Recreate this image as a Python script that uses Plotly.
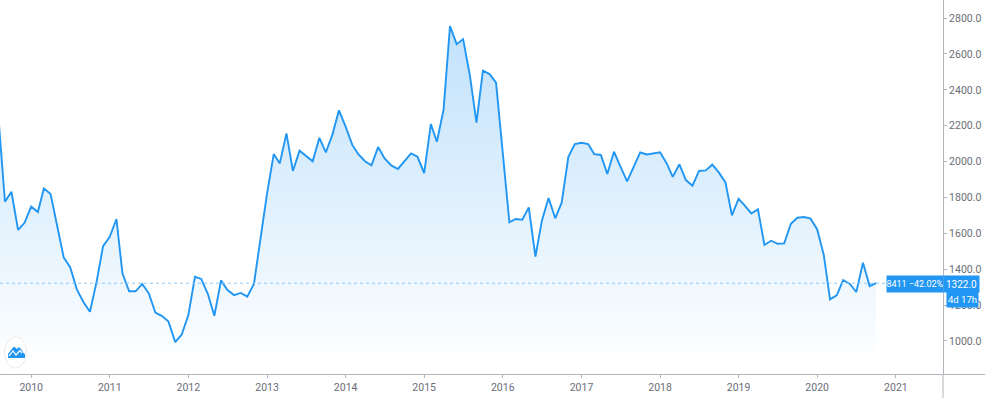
import plotly.graph_objects as go
import pandas as pd

start_month = "2009-08-01"
values = [2260, 1776, 1832, 1619, 1659, 1749, 1719, 1851, 1819, 1637, 1466, 1411, 1288, 1216, 1163, 1331,
          1529, 1581, 1680, 1377, 1277, 1277, 1318, 1266, 1158, 1139, 1108, 994, 1035, 1143, 1358, 1346,
          1262, 1141, 1338, 1284, 1256, 1268, 1247, 1318, 1563, 1823, 2042, 1990, 2157, 1948, 2061, 2031,
          2002, 2133, 2051, 2152, 2286, 2195, 2093, 2041, 2002, 1979, 2081, 2018, 1979, 1959, 2002, 2046,
          2027, 1936, 2210, 2111, 2288, 2755, 2655, 2683, 2483, 2217, 2507, 2488, 2440, 2065, 1662, 1680,
          1676, 1745, 1470, 1671, 1797, 1684, 1771, 2027, 2098, 2105, 2098, 2042, 2037, 1931, 2055, 1972,
          1890, 1972, 2051, 2040, 2046, 2052, 1990, 1915, 1985, 1897, 1866, 1948, 1951, 1983, 1940, 1884,
          1700, 1793, 1752, 1711, 1734, 1535, 1559, 1542, 1544, 1654, 1687, 1691, 1682, 1623, 1479, 1232,
          1255, 1340, 1318, 1273, 1436, 1306, 1322]
dates = pd.date_range(start_month, periods=len(values), freq="MS")
year_ticks = [f"{y}-01-01" for y in range(2010, 2022)]
year_labels = [str(y) for y in range(2010, 2022)]
price_ticks = [1000, 1200, 1400, 1600, 1800, 2000, 2200, 2400, 2600, 2800]
last_price = values[-1]
change_label = "8411 −42.02%"
price_label = "1322.0"
countdown_label = "4d 17h"

W, H, PLOT_H = 985, 405, 374
AXIS_X = 943
BLUE = "#2196f3"
GREY = "#b2b5be"
FONT = "Roboto, sans-serif"
TEXT = "#6a6d78"


def px(x):
    return x / W


def py(y):
    return 1 - y / PLOT_H


def poly(points, close=True):
    d = "M" + " L".join(f"{px(x):.5f},{py(y):.5f}" for x, y in points)
    return d + (" Z" if close else "")


def tag(text, x0, x1, y0, y1, size):
    return dict(xref="paper", yref="paper", x=px((x0 + x1) / 2), y=py((y0 + y1) / 2),
                xanchor="center", yanchor="middle",
                width=x1 - x0, height=y1 - y0, borderpad=0, bgcolor=BLUE, align="center",
                text=text, showarrow=False,
                font=dict(family=FONT, size=size, color="#ffffff"))


fig = go.Figure()
fig.add_trace(go.Scatter(
    x=dates, y=values, mode="lines",
    line=dict(color=BLUE, width=1.9),
    fill="tozeroy",
    fillgradient=dict(type="vertical", start=2760, stop=880,
                      colorscale=[[0, "rgba(33,150,243,0.28)"], [0.92, "rgba(33,150,243,0.03)"],
                                  [1, "rgba(33,150,243,0.0)"]]),
    hoverinfo="skip", showlegend=False,
))

shapes = [
    dict(type="line", xref="paper", yref="y", x0=0, x1=px(AXIS_X), y0=last_price, y1=last_price,
         line=dict(color="#90caf9", width=1, dash="dot"), layer="above"),
    dict(type="line", xref="paper", yref="paper", x0=px(AXIS_X), x1=px(AXIS_X), y0=py(374), y1=py(398),
         line=dict(color=GREY, width=1)),
    dict(type="circle", xref="paper", yref="paper", x0=px(4.5), x1=px(26.5), y0=py(337), y1=py(368),
         fillcolor="#ffffff", line=dict(color="#ebebee", width=1), layer="above"),
    dict(type="path", xref="paper", yref="paper",
         path=poly([(8, 358), (8, 354), (11, 350), (14, 346.5), (17, 349), (19, 347), (22, 350), (23, 352.5), (25, 354), (25, 358)]),
         fillcolor=BLUE, line=dict(width=0), layer="above"),
    dict(type="path", xref="paper", yref="paper",
         path=poly([(9, 356), (13, 351), (16, 355), (20, 350.5), (22, 353)], close=False),
         line=dict(color="#ffffff", width=1.2), layer="above"),
]

annotations = [
    tag(change_label, 887, 943, 275.5, 291.5, 9),
    tag(price_label, 944, 979, 275.5, 291.5, 10),
    tag(countdown_label, 947, 978, 292.5, 307, 9.5),
]

fig.update_layout(
    width=W, height=H,
    margin=dict(l=0, r=0, t=0, b=H - PLOT_H, pad=0),
    paper_bgcolor="#ffffff", plot_bgcolor="#ffffff",
    showlegend=False,
    shapes=shapes, annotations=annotations,
    xaxis=dict(
        type="date", range=["2009-08-09", "2022-02-19"], domain=[0, 1],
        tickmode="array", tickvals=year_ticks, ticktext=year_labels,
        showgrid=False, zeroline=False, showline=True, linecolor=GREY, linewidth=1,
        ticks="outside", ticklen=3, tickcolor=GREY,
        tickfont=dict(family=FONT, size=10.5, color=TEXT),
    ),
    yaxis=dict(
        range=[816, 2901], side="right", anchor="free", position=AXIS_X / W,
        tickmode="array", tickvals=price_ticks, tickformat=".1f",
        showgrid=False, zeroline=False, showline=True, linecolor=GREY, linewidth=1,
        ticks="outside", ticklen=3, tickcolor=GREY,
        tickfont=dict(family=FONT, size=10.5, color=TEXT),
    ),
)

fig.write_html("out.html", config={"displayModeBar": False},
               post_script="document.body.style.margin='0';document.body.style.overflow='hidden';")
